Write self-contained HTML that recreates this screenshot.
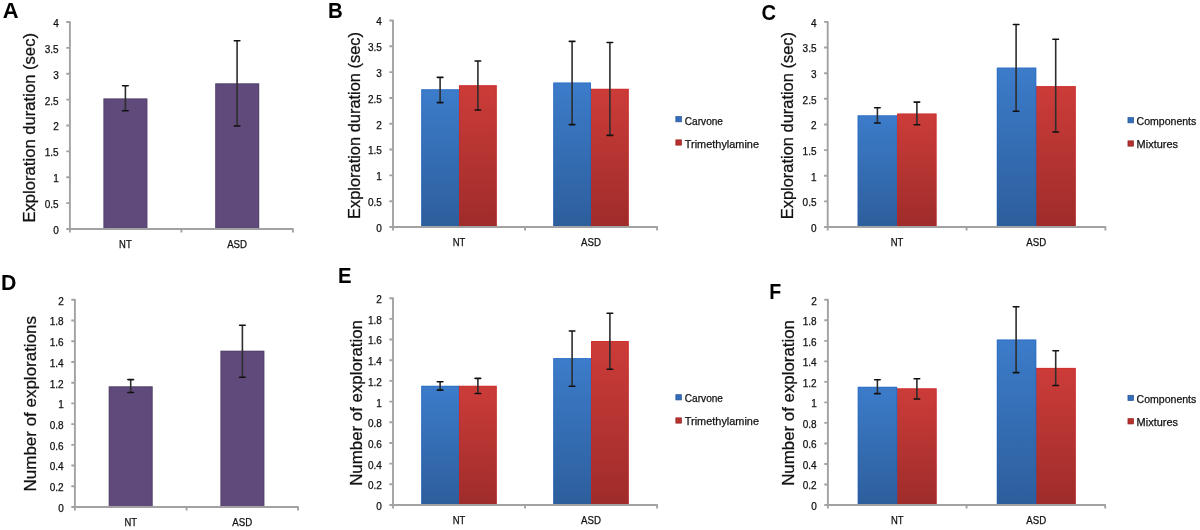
<!DOCTYPE html>
<html><head><meta charset="utf-8"><title>Figure</title>
<style>
html,body{margin:0;padding:0;background:#fff;}
body{width:1200px;height:530px;overflow:hidden;}
svg{display:block;will-change:transform;}
text{font-family:"Liberation Sans",sans-serif;fill:#111;stroke:#111;stroke-width:0.25px;}
.tk{font-size:10px;text-anchor:end;}
.ct{font-size:10px;text-anchor:middle;}
.lg{font-size:10.5px;}
.ti{font-size:16.3px;}
.lt{font-size:21.5px;font-weight:bold;fill:#000;stroke:none;}
</style></head>
<body>
<svg width="1200" height="530" viewBox="0 0 1200 530">
<defs>
<linearGradient id="gb" x1="0" y1="0" x2="0" y2="1">
<stop offset="0" stop-color="#3c7cca"/><stop offset="1" stop-color="#2d5e9c"/>
</linearGradient>
<linearGradient id="gr" x1="0" y1="0" x2="0" y2="1">
<stop offset="0" stop-color="#cc3c39"/><stop offset="1" stop-color="#9e2c2a"/>
</linearGradient>
</defs>
<rect width="1200" height="530" fill="#fff"/>
<rect x="103.40" y="98.40" width="44.00" height="130.60" fill="#5f4a7b"/>
<path d="M103.90 229.00 V98.90 H146.90 V229.00" fill="none" stroke="#000" stroke-opacity="0.12" stroke-width="1"/>
<rect x="215.20" y="83.30" width="44.00" height="145.70" fill="#5f4a7b"/>
<path d="M215.70 229.00 V83.80 H258.70 V229.00" fill="none" stroke="#000" stroke-opacity="0.12" stroke-width="1"/>
<path d="M66.30 22.00 H69.90 V229.00 H292.90 V232.60" fill="none" stroke="#a2a2a2" stroke-width="1.9" stroke-linejoin="round"/>
<path d="M66.30 203.12 H69.90 M66.30 177.25 H69.90 M66.30 151.38 H69.90 M66.30 125.50 H69.90 M66.30 99.62 H69.90 M66.30 73.75 H69.90 M66.30 47.88 H69.90 M66.30 229.00 H69.90 V232.60 M181.40 229.00 V232.60" fill="none" stroke="#a2a2a2" stroke-width="1.9"/>
<text class="tk" x="58.70" y="233.90">0</text>
<text class="tk" x="58.70" y="208.03">0.5</text>
<text class="tk" x="58.70" y="182.15">1</text>
<text class="tk" x="58.70" y="156.28">1.5</text>
<text class="tk" x="58.70" y="130.40">2</text>
<text class="tk" x="58.70" y="104.53">2.5</text>
<text class="tk" x="58.70" y="78.65">3</text>
<text class="tk" x="58.70" y="52.77">3.5</text>
<text class="tk" x="58.70" y="26.90">4</text>
<text class="ct" x="125.40" y="248.20" textLength="12.6" lengthAdjust="spacingAndGlyphs">NT</text>
<text class="ct" x="237.10" y="248.20" textLength="19.9" lengthAdjust="spacingAndGlyphs">ASD</text>
<path d="M125.40 85.70 V110.70 M237.10 40.80 V126.00" fill="none" stroke="#2e2e2e" stroke-width="1.6"/>
<path d="M122.60 85.70 H128.20 M122.60 110.70 H128.20 M234.30 40.80 H239.90 M234.30 126.00 H239.90" fill="none" stroke="#111" stroke-width="1.6" stroke-linecap="round"/>
<text class="ti" transform="translate(35.30 222.60) rotate(-90)" x="0" y="0" textLength="189.60" lengthAdjust="spacingAndGlyphs">Exploration duration (sec)</text>
<text class="lt" transform="translate(2.66 18.10) scale(1.02 1)" x="0" y="0">A</text>
<rect x="421.20" y="89.25" width="38.50" height="137.75" fill="url(#gb)"/>
<path d="M421.70 227.00 V89.75 H459.20 V227.00" fill="none" stroke="#1a5cc4" stroke-opacity="0.35" stroke-width="1"/>
<rect x="459.00" y="85.20" width="37.80" height="141.80" fill="url(#gr)"/>
<path d="M459.50 227.00 V85.70 H496.30 V227.00" fill="none" stroke="#d81c1c" stroke-opacity="0.35" stroke-width="1"/>
<rect x="590.30" y="88.80" width="38.50" height="138.20" fill="url(#gr)"/>
<path d="M590.80 227.00 V89.30 H628.30 V227.00" fill="none" stroke="#d81c1c" stroke-opacity="0.35" stroke-width="1"/>
<rect x="553.20" y="82.50" width="37.80" height="144.50" fill="url(#gb)"/>
<path d="M553.70 227.00 V83.00 H590.50 V227.00" fill="none" stroke="#1a5cc4" stroke-opacity="0.35" stroke-width="1"/>
<path d="M389.40 20.50 H393.00 V227.00 H657.10 V230.60" fill="none" stroke="#a2a2a2" stroke-width="1.9" stroke-linejoin="round"/>
<path d="M389.40 201.19 H393.00 M389.40 175.38 H393.00 M389.40 149.56 H393.00 M389.40 123.75 H393.00 M389.40 97.94 H393.00 M389.40 72.12 H393.00 M389.40 46.31 H393.00 M389.40 227.00 H393.00 V230.60 M525.05 227.00 V230.60" fill="none" stroke="#a2a2a2" stroke-width="1.9"/>
<text class="tk" x="381.80" y="231.90">0</text>
<text class="tk" x="381.80" y="206.09">0.5</text>
<text class="tk" x="381.80" y="180.28">1</text>
<text class="tk" x="381.80" y="154.46">1.5</text>
<text class="tk" x="381.80" y="128.65">2</text>
<text class="tk" x="381.80" y="102.84">2.5</text>
<text class="tk" x="381.80" y="77.03">3</text>
<text class="tk" x="381.80" y="51.21">3.5</text>
<text class="tk" x="381.80" y="25.40">4</text>
<text class="ct" x="459.00" y="246.20" textLength="12.6" lengthAdjust="spacingAndGlyphs">NT</text>
<text class="ct" x="591.00" y="246.20" textLength="19.9" lengthAdjust="spacingAndGlyphs">ASD</text>
<path d="M440.10 77.40 V102.60 M477.90 61.00 V110.00 M572.10 41.40 V124.60 M609.90 42.50 V135.40" fill="none" stroke="#2e2e2e" stroke-width="1.6"/>
<path d="M437.30 77.40 H442.90 M437.30 102.60 H442.90 M475.10 61.00 H480.70 M475.10 110.00 H480.70 M569.30 41.40 H574.90 M569.30 124.60 H574.90 M607.10 42.50 H612.70 M607.10 135.40 H612.70" fill="none" stroke="#111" stroke-width="1.6" stroke-linecap="round"/>
<text class="ti" transform="translate(360.30 219.00) rotate(-90)" x="0" y="0" textLength="187.00" lengthAdjust="spacingAndGlyphs">Exploration duration (sec)</text>
<text class="lt" transform="translate(327.90 18.10) scale(0.95 1)" x="0" y="0">B</text>
<rect x="675.85" y="116.55" width="5.6" height="5.3" fill="#336cb8" stroke="#2a5894" stroke-width="0.7"/>
<text class="lg" x="684.80" y="124.50" textLength="38.20" lengthAdjust="spacingAndGlyphs">Carvone</text>
<rect x="675.85" y="139.85" width="5.6" height="5.3" fill="#b8302e" stroke="#8e2523" stroke-width="0.7"/>
<text class="lg" x="684.80" y="147.50" textLength="74.20" lengthAdjust="spacingAndGlyphs">Trimethylamine</text>
<rect x="857.60" y="115.30" width="40.20" height="111.70" fill="url(#gb)"/>
<path d="M858.10 227.00 V115.80 H897.30 V227.00" fill="none" stroke="#1a5cc4" stroke-opacity="0.35" stroke-width="1"/>
<rect x="897.10" y="113.50" width="39.50" height="113.50" fill="url(#gr)"/>
<path d="M897.60 227.00 V114.00 H936.10 V227.00" fill="none" stroke="#d81c1c" stroke-opacity="0.35" stroke-width="1"/>
<rect x="1035.60" y="86.10" width="40.20" height="140.90" fill="url(#gr)"/>
<path d="M1036.10 227.00 V86.60 H1075.30 V227.00" fill="none" stroke="#d81c1c" stroke-opacity="0.35" stroke-width="1"/>
<rect x="996.80" y="67.60" width="39.50" height="159.40" fill="url(#gb)"/>
<path d="M997.30 227.00 V68.10 H1035.80 V227.00" fill="none" stroke="#1a5cc4" stroke-opacity="0.35" stroke-width="1"/>
<path d="M824.10 21.90 H827.70 V227.00 H1105.40 V230.60" fill="none" stroke="#a2a2a2" stroke-width="1.9" stroke-linejoin="round"/>
<path d="M824.10 201.36 H827.70 M824.10 175.72 H827.70 M824.10 150.09 H827.70 M824.10 124.45 H827.70 M824.10 98.81 H827.70 M824.10 73.18 H827.70 M824.10 47.54 H827.70 M824.10 227.00 H827.70 V230.60 M966.55 227.00 V230.60" fill="none" stroke="#a2a2a2" stroke-width="1.9"/>
<text class="tk" x="816.50" y="231.90">0</text>
<text class="tk" x="816.50" y="206.26">0.5</text>
<text class="tk" x="816.50" y="180.62">1</text>
<text class="tk" x="816.50" y="154.99">1.5</text>
<text class="tk" x="816.50" y="129.35">2</text>
<text class="tk" x="816.50" y="103.71">2.5</text>
<text class="tk" x="816.50" y="78.08">3</text>
<text class="tk" x="816.50" y="52.44">3.5</text>
<text class="tk" x="816.50" y="26.80">4</text>
<text class="ct" x="897.10" y="246.20" textLength="12.6" lengthAdjust="spacingAndGlyphs">NT</text>
<text class="ct" x="1036.30" y="246.20" textLength="19.9" lengthAdjust="spacingAndGlyphs">ASD</text>
<path d="M877.40 107.70 V123.00 M916.90 102.10 V124.80 M1016.10 24.50 V111.30 M1055.70 39.30 V132.00" fill="none" stroke="#2e2e2e" stroke-width="1.6"/>
<path d="M874.60 107.70 H880.20 M874.60 123.00 H880.20 M914.10 102.10 H919.70 M914.10 124.80 H919.70 M1013.30 24.50 H1018.90 M1013.30 111.30 H1018.90 M1052.90 39.30 H1058.50 M1052.90 132.00 H1058.50" fill="none" stroke="#111" stroke-width="1.6" stroke-linecap="round"/>
<text class="ti" transform="translate(793.20 219.30) rotate(-90)" x="0" y="0" textLength="187.30" lengthAdjust="spacingAndGlyphs">Exploration duration (sec)</text>
<text class="lt" transform="translate(761.60 19.50) scale(0.94 1)" x="0" y="0">C</text>
<rect x="1127.95" y="117.55" width="5.6" height="5.3" fill="#336cb8" stroke="#2a5894" stroke-width="0.7"/>
<text class="lg" x="1136.60" y="125.00" textLength="59.70" lengthAdjust="spacingAndGlyphs">Components</text>
<rect x="1127.95" y="140.85" width="5.6" height="5.3" fill="#b8302e" stroke="#8e2523" stroke-width="0.7"/>
<text class="lg" x="1136.60" y="148.20" textLength="41.40" lengthAdjust="spacingAndGlyphs">Mixtures</text>
<rect x="108.70" y="386.30" width="44.00" height="120.70" fill="#5f4a7b"/>
<path d="M109.20 507.00 V386.80 H152.20 V507.00" fill="none" stroke="#000" stroke-opacity="0.12" stroke-width="1"/>
<rect x="220.40" y="350.70" width="44.00" height="156.30" fill="#5f4a7b"/>
<path d="M220.90 507.00 V351.20 H263.90 V507.00" fill="none" stroke="#000" stroke-opacity="0.12" stroke-width="1"/>
<path d="M71.30 299.80 H74.90 V507.00 H298.00 V510.60" fill="none" stroke="#a2a2a2" stroke-width="1.9" stroke-linejoin="round"/>
<path d="M71.30 486.28 H74.90 M71.30 465.56 H74.90 M71.30 444.84 H74.90 M71.30 424.12 H74.90 M71.30 403.40 H74.90 M71.30 382.68 H74.90 M71.30 361.96 H74.90 M71.30 341.24 H74.90 M71.30 320.52 H74.90 M71.30 507.00 H74.90 V510.60 M186.60 507.00 V510.60" fill="none" stroke="#a2a2a2" stroke-width="1.9"/>
<text class="tk" x="63.70" y="511.90">0</text>
<text class="tk" x="63.70" y="491.18">0.2</text>
<text class="tk" x="63.70" y="470.46">0.4</text>
<text class="tk" x="63.70" y="449.74">0.6</text>
<text class="tk" x="63.70" y="429.02">0.8</text>
<text class="tk" x="63.70" y="408.30">1</text>
<text class="tk" x="63.70" y="387.58">1.2</text>
<text class="tk" x="63.70" y="366.86">1.4</text>
<text class="tk" x="63.70" y="346.14">1.6</text>
<text class="tk" x="63.70" y="325.42">1.8</text>
<text class="tk" x="63.70" y="304.70">2</text>
<text class="ct" x="130.70" y="526.20" textLength="12.6" lengthAdjust="spacingAndGlyphs">NT</text>
<text class="ct" x="242.30" y="526.20" textLength="19.9" lengthAdjust="spacingAndGlyphs">ASD</text>
<path d="M130.70 379.60 V392.50 M242.40 325.30 V377.20" fill="none" stroke="#2e2e2e" stroke-width="1.6"/>
<path d="M127.90 379.60 H133.50 M127.90 392.50 H133.50 M239.60 325.30 H245.20 M239.60 377.20 H245.20" fill="none" stroke="#111" stroke-width="1.6" stroke-linecap="round"/>
<text class="ti" transform="translate(35.50 491.40) rotate(-90)" x="0" y="0" textLength="175.40" lengthAdjust="spacingAndGlyphs">Number of explorations</text>
<text class="lt" transform="translate(1.08 290.40) scale(0.99 1)" x="0" y="0">D</text>
<rect x="421.20" y="385.80" width="38.50" height="119.20" fill="url(#gb)"/>
<path d="M421.70 505.00 V386.30 H459.20 V505.00" fill="none" stroke="#1a5cc4" stroke-opacity="0.35" stroke-width="1"/>
<rect x="459.00" y="385.80" width="37.80" height="119.20" fill="url(#gr)"/>
<path d="M459.50 505.00 V386.30 H496.30 V505.00" fill="none" stroke="#d81c1c" stroke-opacity="0.35" stroke-width="1"/>
<rect x="553.20" y="358.10" width="38.50" height="146.90" fill="url(#gb)"/>
<path d="M553.70 505.00 V358.60 H591.20 V505.00" fill="none" stroke="#1a5cc4" stroke-opacity="0.35" stroke-width="1"/>
<rect x="591.00" y="341.00" width="37.80" height="164.00" fill="url(#gr)"/>
<path d="M591.50 505.00 V341.50 H628.30 V505.00" fill="none" stroke="#d81c1c" stroke-opacity="0.35" stroke-width="1"/>
<path d="M389.40 298.20 H393.00 V505.00 H657.10 V508.60" fill="none" stroke="#a2a2a2" stroke-width="1.9" stroke-linejoin="round"/>
<path d="M389.40 484.32 H393.00 M389.40 463.64 H393.00 M389.40 442.96 H393.00 M389.40 422.28 H393.00 M389.40 401.60 H393.00 M389.40 380.92 H393.00 M389.40 360.24 H393.00 M389.40 339.56 H393.00 M389.40 318.88 H393.00 M389.40 505.00 H393.00 V508.60 M525.05 505.00 V508.60" fill="none" stroke="#a2a2a2" stroke-width="1.9"/>
<text class="tk" x="381.80" y="509.90">0</text>
<text class="tk" x="381.80" y="489.22">0.2</text>
<text class="tk" x="381.80" y="468.54">0.4</text>
<text class="tk" x="381.80" y="447.86">0.6</text>
<text class="tk" x="381.80" y="427.18">0.8</text>
<text class="tk" x="381.80" y="406.50">1</text>
<text class="tk" x="381.80" y="385.82">1.2</text>
<text class="tk" x="381.80" y="365.14">1.4</text>
<text class="tk" x="381.80" y="344.46">1.6</text>
<text class="tk" x="381.80" y="323.78">1.8</text>
<text class="tk" x="381.80" y="303.10">2</text>
<text class="ct" x="459.00" y="524.20" textLength="12.6" lengthAdjust="spacingAndGlyphs">NT</text>
<text class="ct" x="591.00" y="524.20" textLength="19.9" lengthAdjust="spacingAndGlyphs">ASD</text>
<path d="M440.10 381.80 V390.10 M477.90 378.40 V393.50 M572.10 331.00 V386.30 M609.90 313.20 V369.20" fill="none" stroke="#2e2e2e" stroke-width="1.6"/>
<path d="M437.30 381.80 H442.90 M437.30 390.10 H442.90 M475.10 378.40 H480.70 M475.10 393.50 H480.70 M569.30 331.00 H574.90 M569.30 386.30 H574.90 M607.10 313.20 H612.70 M607.10 369.20 H612.70" fill="none" stroke="#111" stroke-width="1.6" stroke-linecap="round"/>
<text class="ti" transform="translate(362.30 485.80) rotate(-90)" x="0" y="0" textLength="165.80" lengthAdjust="spacingAndGlyphs">Number of exploration</text>
<text class="lt" transform="translate(337.90 283.30) scale(0.945 1)" x="0" y="0">E</text>
<rect x="675.85" y="394.65" width="5.6" height="5.3" fill="#336cb8" stroke="#2a5894" stroke-width="0.7"/>
<text class="lg" x="684.80" y="402.30" textLength="38.20" lengthAdjust="spacingAndGlyphs">Carvone</text>
<rect x="675.85" y="417.85" width="5.6" height="5.3" fill="#b8302e" stroke="#8e2523" stroke-width="0.7"/>
<text class="lg" x="684.80" y="425.30" textLength="74.20" lengthAdjust="spacingAndGlyphs">Trimethylamine</text>
<rect x="896.50" y="388.30" width="40.20" height="116.70" fill="url(#gr)"/>
<path d="M897.00 505.00 V388.80 H936.20 V505.00" fill="none" stroke="#d81c1c" stroke-opacity="0.35" stroke-width="1"/>
<rect x="857.70" y="386.80" width="39.50" height="118.20" fill="url(#gb)"/>
<path d="M858.20 505.00 V387.30 H896.70 V505.00" fill="none" stroke="#1a5cc4" stroke-opacity="0.35" stroke-width="1"/>
<rect x="1035.60" y="367.90" width="40.20" height="137.10" fill="url(#gr)"/>
<path d="M1036.10 505.00 V368.40 H1075.30 V505.00" fill="none" stroke="#d81c1c" stroke-opacity="0.35" stroke-width="1"/>
<rect x="996.80" y="339.50" width="39.50" height="165.50" fill="url(#gb)"/>
<path d="M997.30 505.00 V340.00 H1035.80 V505.00" fill="none" stroke="#1a5cc4" stroke-opacity="0.35" stroke-width="1"/>
<path d="M824.30 299.80 H827.90 V505.00 H1105.20 V508.60" fill="none" stroke="#a2a2a2" stroke-width="1.9" stroke-linejoin="round"/>
<path d="M824.30 484.48 H827.90 M824.30 463.96 H827.90 M824.30 443.44 H827.90 M824.30 422.92 H827.90 M824.30 402.40 H827.90 M824.30 381.88 H827.90 M824.30 361.36 H827.90 M824.30 340.84 H827.90 M824.30 320.32 H827.90 M824.30 505.00 H827.90 V508.60 M966.55 505.00 V508.60" fill="none" stroke="#a2a2a2" stroke-width="1.9"/>
<text class="tk" x="816.70" y="509.90">0</text>
<text class="tk" x="816.70" y="489.38">0.2</text>
<text class="tk" x="816.70" y="468.86">0.4</text>
<text class="tk" x="816.70" y="448.34">0.6</text>
<text class="tk" x="816.70" y="427.82">0.8</text>
<text class="tk" x="816.70" y="407.30">1</text>
<text class="tk" x="816.70" y="386.78">1.2</text>
<text class="tk" x="816.70" y="366.26">1.4</text>
<text class="tk" x="816.70" y="345.74">1.6</text>
<text class="tk" x="816.70" y="325.22">1.8</text>
<text class="tk" x="816.70" y="304.70">2</text>
<text class="ct" x="897.20" y="524.20" textLength="12.6" lengthAdjust="spacingAndGlyphs">NT</text>
<text class="ct" x="1036.30" y="524.20" textLength="19.9" lengthAdjust="spacingAndGlyphs">ASD</text>
<path d="M877.40 379.80 V393.60 M916.90 378.70 V399.00 M1016.10 306.70 V372.60 M1055.70 350.80 V385.50" fill="none" stroke="#2e2e2e" stroke-width="1.6"/>
<path d="M874.60 379.80 H880.20 M874.60 393.60 H880.20 M914.10 378.70 H919.70 M914.10 399.00 H919.70 M1013.30 306.70 H1018.90 M1013.30 372.60 H1018.90 M1052.90 350.80 H1058.50 M1052.90 385.50 H1058.50" fill="none" stroke="#111" stroke-width="1.6" stroke-linecap="round"/>
<text class="ti" transform="translate(794.30 485.80) rotate(-90)" x="0" y="0" textLength="165.80" lengthAdjust="spacingAndGlyphs">Number of exploration</text>
<text class="lt" transform="translate(769.20 299.30) scale(0.91 1)" x="0" y="0">F</text>
<rect x="1127.95" y="395.25" width="5.6" height="5.3" fill="#336cb8" stroke="#2a5894" stroke-width="0.7"/>
<text class="lg" x="1136.60" y="402.70" textLength="59.70" lengthAdjust="spacingAndGlyphs">Components</text>
<rect x="1127.95" y="418.65" width="5.6" height="5.3" fill="#b8302e" stroke="#8e2523" stroke-width="0.7"/>
<text class="lg" x="1136.60" y="426.00" textLength="41.40" lengthAdjust="spacingAndGlyphs">Mixtures</text>
</svg>
</body></html>
